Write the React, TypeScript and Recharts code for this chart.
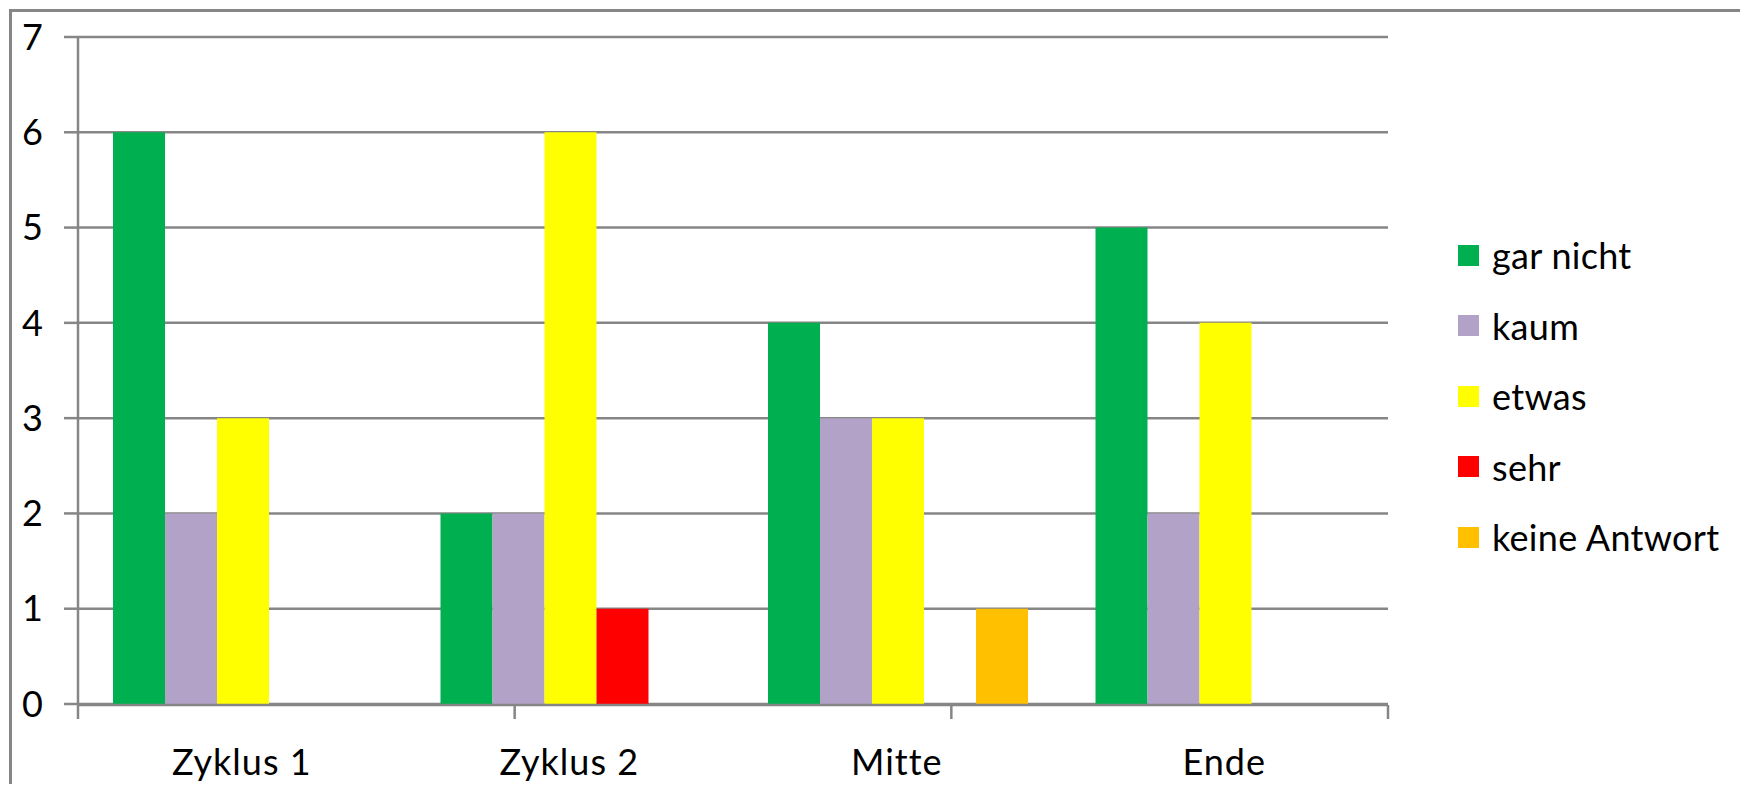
import { Bar, BarChart, CartesianGrid, Legend, XAxis, YAxis } from 'recharts'

const categories = ['Zyklus 1', 'Zyklus 2', 'Mitte', 'Ende']
const garNicht = [6, 2, 4, 5]
const kaum = [2, 2, 3, 2]
const etwas = [3, 6, 3, 4]
const sehr = [0, 1, 0, 0]
const keineAntwort = [0, 0, 1, 0]
const yTicks = [0, 1, 2, 3, 4, 5, 6, 7]
const bandEdges = [0, 1, 2, 3, 4]

const series = [
  { key: 'garNicht', name: 'gar nicht', values: garNicht, color: '#00B050' },
  { key: 'kaum', name: 'kaum', values: kaum, color: '#B3A2C7' },
  { key: 'etwas', name: 'etwas', values: etwas, color: '#FFFF00' },
  { key: 'sehr', name: 'sehr', values: sehr, color: '#FF0000' },
  { key: 'keineAntwort', name: 'keine Antwort', values: keineAntwort, color: '#FFC000' },
]

const data = categories.map((name, i) => {
  const row: Record<string, string | number> = { name }
  series.forEach((s) => {
    row[s.key] = s.values[i]
  })
  return row
})

const GRAY = '#868686'
const FONT = 36

function renderLegend(props: { payload?: { value: string; color: string }[] }) {
  // keep the series order (recharts sorts the legend by name otherwise)
  const order = series.map((s) => s.name)
  const items = [...(props.payload ?? [])].sort(
    (a, b) => order.indexOf(a.value) - order.indexOf(b.value),
  )
  return (
    <div>
      {items.map((item) => (
        <div key={item.value} style={{ display: 'flex', alignItems: 'center', height: 70.5 }}>
          <span style={{ width: 21, height: 21, background: item.color, flexShrink: 0 }} />
          <span style={{ marginLeft: 13, fontSize: FONT, color: '#000', letterSpacing: 0.3 }}>
            {item.value}
          </span>
        </div>
      ))}
    </div>
  )
}

export default function App() {
  return (
    <div
      style={{
        position: 'relative',
        width: 1740,
        height: 776,
        overflow: 'hidden',
        fontFamily: 'Lato, "Open Sans", sans-serif',
        background: '#fff',
      }}
    >
      <div
        style={{
          position: 'absolute',
          left: 1,
          top: 1,
          width: 1737,
          height: 820,
          border: `3px solid ${GRAY}`,
          boxSizing: 'border-box',
        }}
      />
      <BarChart
        width={1740}
        height={776}
        data={data}
        margin={{ top: 29, right: 360, bottom: 78, left: 0 }}
        barCategoryGap={35}
        barGap={0}
      >
        <CartesianGrid vertical={false} stroke={GRAY} strokeWidth={2.5} />
        <XAxis
          dataKey="name"
          height={1}
          interval={0}
          tickLine={false}
          axisLine={false}
          tickSize={0}
          tickMargin={45}
          tick={{ fill: '#000', fontSize: FONT, letterSpacing: 1 }}
        />
        <XAxis
          xAxisId="band"
          type="number"
          domain={[0, 4]}
          ticks={bandEdges}
          allowDataOverflow
          interval={0}
          height={1}
          tickSize={14}
          tickFormatter={() => ''}
          axisLine={{ stroke: GRAY, strokeWidth: 2.5 }}
          tickLine={{ stroke: GRAY, strokeWidth: 2.5 }}
        />
        <YAxis
          width={70}
          domain={[0, 7]}
          ticks={yTicks}
          interval={0}
          tickSize={14}
          tickMargin={21}
          axisLine={{ stroke: GRAY, strokeWidth: 2.5 }}
          tickLine={{ stroke: GRAY, strokeWidth: 2.5 }}
          tick={{ fill: '#000', fontSize: FONT }}
        />
        <Legend
          layout="vertical"
          align="center"
          verticalAlign="middle"
          wrapperStyle={{ left: 1450, top: 212, width: 290 }}
          content={renderLegend}
        />
        {series.map((s) => (
          <Bar
            key={s.key}
            dataKey={s.key}
            name={s.name}
            fill={s.color}
            isAnimationActive={false}
          />
        ))}
      </BarChart>
    </div>
  )
}
